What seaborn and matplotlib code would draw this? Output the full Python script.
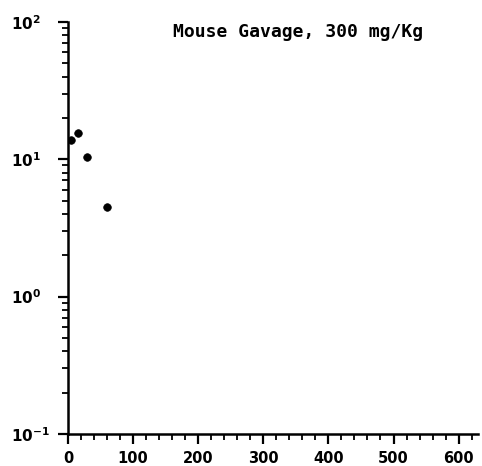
import matplotlib
matplotlib.use("Agg")
import matplotlib.pyplot as plt
import matplotlib.ticker as mticker
import seaborn as sns
import pandas as pd

# Concentration vs time after oral gavage
time_min = [5, 15, 30, 60]
concentration = [13.7, 15.6, 10.3, 4.5]
x_ticks = [0, 100, 200, 300, 400, 500, 600]
title_text = "Mouse Gavage, 300 mg/Kg"

df = pd.DataFrame({"time": time_min, "conc": concentration})

sns.set_theme(style="white")
plt.rcParams["font.family"] = ["DejaVu Sans", "DejaVu Sans Mono"]
plt.rcParams["font.weight"] = "bold"
plt.rcParams["mathtext.default"] = "bf"

fig = plt.figure(figsize=(4.82, 4.66), dpi=100)
ax = fig.add_axes([0.141, 0.069, 0.851, 0.884])

sns.scatterplot(data=df, x="time", y="conc", ax=ax, color="black",
                s=30, edgecolor="black", linewidth=0.5, zorder=3)

ax.set_yscale("log")
ax.set_ylim(0.1, 100)
ax.set_xlim(0, 630)
ax.set_xticks(x_ticks)
ax.xaxis.set_minor_locator(mticker.MultipleLocator(20))
ax.yaxis.set_major_locator(mticker.LogLocator(base=10, numticks=10))
ax.yaxis.set_minor_locator(mticker.LogLocator(base=10, subs=range(2, 10), numticks=10))
ax.yaxis.set_minor_formatter(mticker.NullFormatter())

for side in ("top", "right"):
    ax.spines[side].set_visible(False)
for side in ("left", "bottom"):
    ax.spines[side].set_linewidth(1.8)
    ax.spines[side].set_color("black")

ax.tick_params(axis="both", which="major", direction="out", length=7, width=1.6,
               colors="black")
ax.tick_params(axis="x", which="major", pad=5, labelsize=10.5)
ax.tick_params(axis="y", which="major", pad=34, labelsize=11)
ax.tick_params(axis="both", which="minor", direction="out", length=4, width=1.3,
               colors="black")
ax.tick_params(axis="both", which="both", left=True, bottom=True)
for lab in ax.get_xticklabels():
    lab.set_fontweight("bold")
for lab in ax.get_yticklabels():
    lab.set_fontweight("bold")
    lab.set_horizontalalignment("left")

ax.set_xlabel("")
ax.set_ylabel("")
ax.grid(False)

ax.text(0.56, 0.975, title_text, transform=ax.transAxes, ha="center", va="center",
        fontsize=13, fontweight="bold", color="black", family="DejaVu Sans Mono")

fig.savefig("out.png", dpi=100, facecolor="white")
